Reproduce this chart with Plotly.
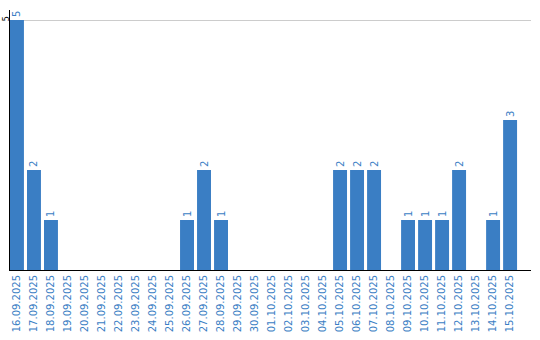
import plotly.graph_objects as go

dates = ["16.09.2025","17.09.2025","18.09.2025","19.09.2025","20.09.2025","21.09.2025",
         "22.09.2025","23.09.2025","24.09.2025","25.09.2025","26.09.2025","27.09.2025",
         "28.09.2025","29.09.2025","30.09.2025","01.10.2025","02.10.2025","03.10.2025",
         "04.10.2025","05.10.2025","06.10.2025","07.10.2025","08.10.2025","09.10.2025",
         "10.10.2025","11.10.2025","12.10.2025","13.10.2025","14.10.2025","15.10.2025"]
values = [5,2,1,0,0,0,0,0,0,0,1,2,1,0,0,0,0,0,0,2,2,2,0,1,1,1,2,0,1,3]
labels = [str(v) if v > 0 else "" for v in values]

blue = "#3a7ec4"
fig = go.Figure(go.Bar(
    x=list(range(len(dates))), y=values, text=labels,
    textposition="outside", textangle=-90, cliponaxis=False,
    textfont=dict(color=blue, size=10, family="DejaVu Sans"),
    marker=dict(color=blue, line=dict(width=0)),
))
fig.update_layout(
    width=540, height=340, margin=dict(l=10, r=9, t=10, b=70),
    paper_bgcolor="white", plot_bgcolor="white", bargap=0.18,
    showlegend=False,
    font=dict(family="DejaVu Sans", size=10, color=blue),
)
fig.update_xaxes(
    range=[-0.41, 30.23], tickmode="array", tickvals=list(range(len(dates))),
    ticktext=dates, tickangle=-90, showline=True, linecolor="black", linewidth=1,
    showgrid=False, ticks="", automargin=False,
    tickfont=dict(color=blue, size=10, family="DejaVu Sans"),
)
fig.update_yaxes(
    range=[0, 5.2], tickmode="array", tickvals=[5], ticktext=["5"],
    tickangle=-90, showline=True, linecolor="black", linewidth=1,
    showgrid=True, gridcolor="#cccccc", zeroline=False, ticks="", automargin=False,
    tickfont=dict(color="black", size=8, family="DejaVu Sans"), ticklabelstandoff=-3,
)
fig.write_html("out.html")
